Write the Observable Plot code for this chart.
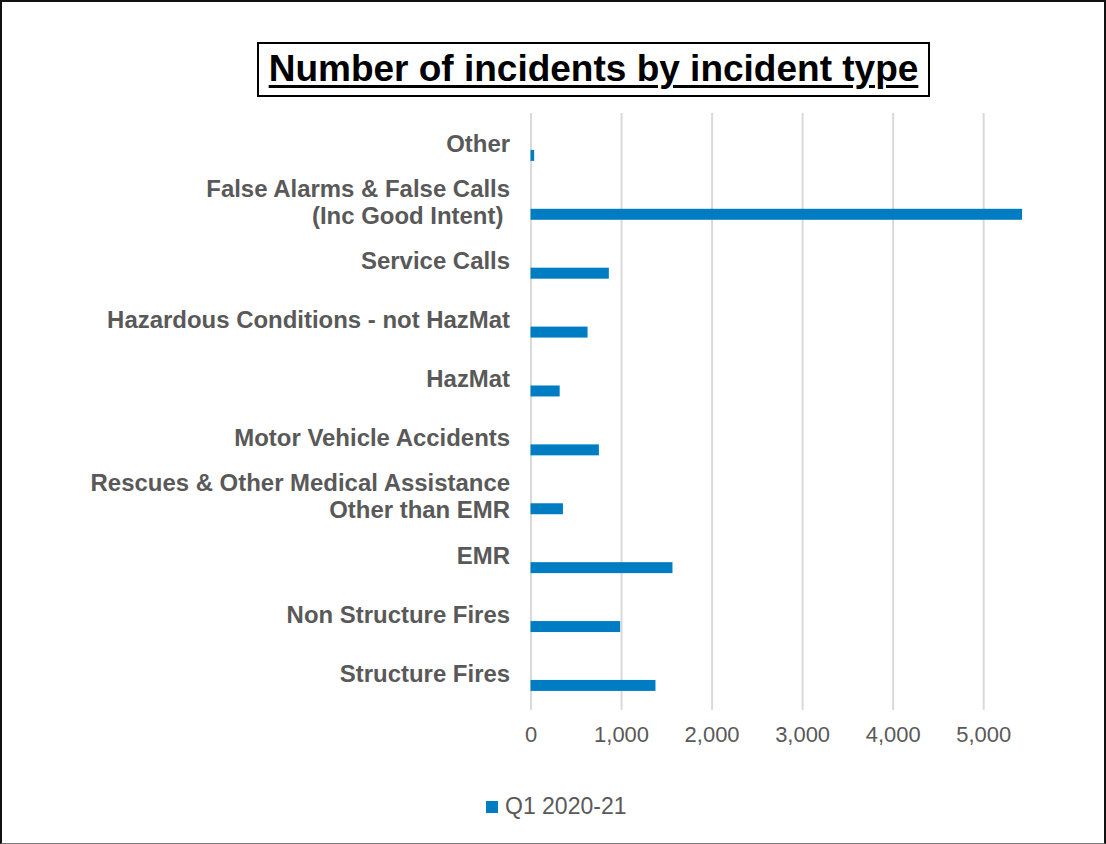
<!DOCTYPE html>
<html>
<head>
<meta charset="utf-8">
<script src="https://cdn.jsdelivr.net/npm/d3@7"></script>
<script src="https://cdn.jsdelivr.net/npm/@observablehq/plot@0.6"></script>
<style>
  html, body { margin: 0; padding: 0; background: #fff; }
  #frame {
    position: relative; width: 1106px; height: 844px; box-sizing: border-box;
    border: 2px solid #111; border-bottom: 1px solid #777;
    font-family: "Liberation Sans", Arial, sans-serif; overflow: hidden;
  }
  #title {
    position: absolute; left: 255px; top: 40px; width: 673px; height: 55px;
    box-sizing: border-box; border: 2px solid #000;
    font-weight: bold; font-size: 37px; text-decoration: underline;
    text-decoration-thickness: 3px; text-underline-offset: 4px;
    color: #000; text-align: center; line-height: 50px; white-space: nowrap;
  }
  #chart { position: absolute; left: -2px; top: 98px; }
  #legend {
    position: absolute; left: 484px; top: 791px; font-size: 23px; color: #595959;
    display: flex; align-items: center; white-space: nowrap;
  }
  #legend .swatch { width: 12px; height: 12px; background: #007dc2; margin-right: 7px; }
</style>
</head>
<body>
<div id="frame">
  <div id="title">Number of incidents by incident type</div>
  <div id="chart"></div>
  <div id="legend"><span class="swatch"></span><span>Q1 2020-21</span></div>
</div>
<script>
// Incident types, top to bottom
const categories = [
  "Other",
  "False Alarms & False Calls\n(Inc Good Intent)\u00a0",
  "Service Calls",
  "Hazardous Conditions - not HazMat",
  "HazMat",
  "Motor Vehicle Accidents",
  "Rescues & Other Medical Assistance\nOther than EMR",
  "EMR",
  "Non Structure Fires",
  "Structure Fires"
];
// Q1 2020-21 incident counts
const q1_2020_21 = [40, 5430, 865, 630, 322, 755, 358, 1568, 990, 1380];
const xTicks = [0, 1000, 2000, 3000, 4000, 5000];
const seriesName = "Q1 2020-21";

const data = categories.map((c, i) => ({type: c, count: q1_2020_21[i], series: seriesName}));

const chart = Plot.plot({
  width: 1106,
  height: 662,
  marginTop: 13,
  marginBottom: 57,
  marginLeft: 531.5,
  marginRight: 75.7,
  style: {fontFamily: "Liberation Sans, Arial, sans-serif", background: "transparent"},
  x: {domain: [0, 5500]},
  y: {domain: categories, padding: 0},
  marks: [
    Plot.gridX(xTicks, {stroke: "#d9d9d9", strokeWidth: 2, strokeOpacity: 1}),
    Plot.axisX({
      ticks: xTicks, tickSize: 6, tickPadding: 16, stroke: "#d9d9d9", strokeWidth: 2,
      tickFormat: d3.format(","), fontSize: 22, fill: "#595959", label: null
    }),
    Plot.axisY({
      tickSize: 0, tickPadding: 21, fontSize: 24, fontWeight: "bold", fill: "#595959",
      lineHeight: 1.12, dy: -1, label: null
    }),
    Plot.barX(data, {x: "count", y: "type", fill: "#007dc2", insetTop: 36, insetBottom: 12})
  ]
});
document.getElementById("chart").appendChild(chart);
</script>
</body>
</html>
